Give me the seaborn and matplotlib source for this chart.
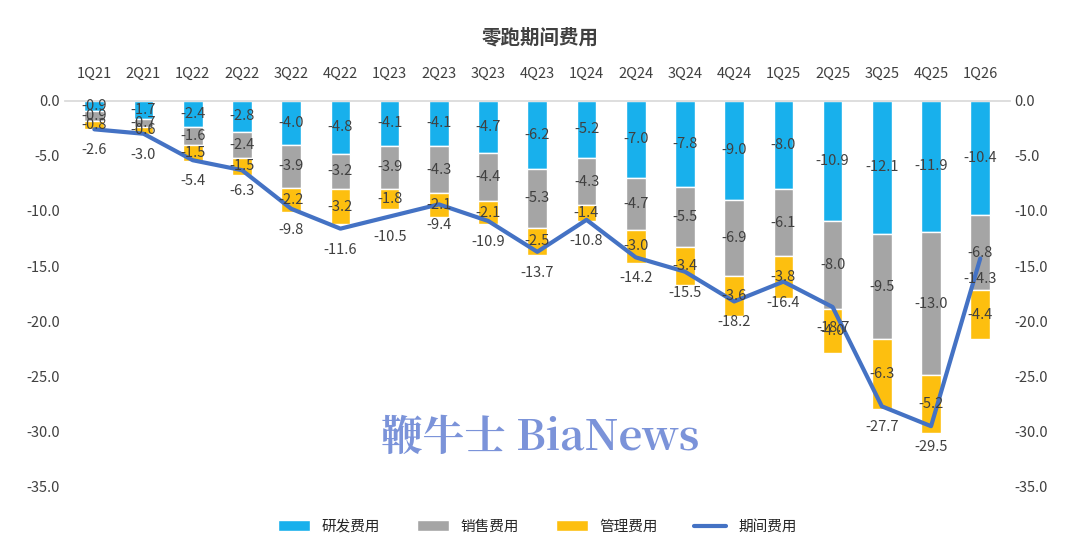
import numpy as np
import pandas as pd
import matplotlib
matplotlib.use("Agg")
import matplotlib.pyplot as plt
import seaborn as sns

quarters = ["1Q21", "2Q21", "1Q22", "2Q22", "3Q22", "4Q22", "1Q23", "2Q23", "3Q23", "4Q23",
            "1Q24", "2Q24", "3Q24", "4Q24", "1Q25", "2Q25", "3Q25", "4Q25", "1Q26"]
rd = [-0.9, -1.7, -2.4, -2.8, -4.0, -4.8, -4.1, -4.1, -4.7, -6.2,
      -5.2, -7.0, -7.8, -9.0, -8.0, -10.9, -12.1, -11.9, -10.4]
sales = [-0.9, -0.7, -1.6, -2.4, -3.9, -3.2, -3.9, -4.3, -4.4, -5.3,
         -4.3, -4.7, -5.5, -6.9, -6.1, -8.0, -9.5, -13.0, -6.8]
admin = [-0.8, -0.6, -1.5, -1.5, -2.2, -3.2, -1.8, -2.1, -2.1, -2.5,
         -1.4, -3.0, -3.4, -3.6, -3.8, -4.0, -6.3, -5.2, -4.4]
total = [-2.6, -3.0, -5.4, -6.3, -9.8, -11.6, -10.5, -9.4, -10.9, -13.7,
         -10.8, -14.2, -15.5, -18.2, -16.4, -18.7, -27.7, -29.5, -14.3]

sns.set_theme(style="white")
plt.rcParams['font.family'] = ['Noto Sans CJK SC', 'DejaVu Sans']

fig, ax = plt.subplots(figsize=(10.8, 5.44), dpi=100)
fig.subplots_adjust(left=0.06, right=0.935, top=0.815, bottom=0.105)

x = np.arange(len(quarters))
w = 0.4
c_rd, c_sales, c_admin, c_line = "#18b0ec", "#a5a5a5", "#fdbf0f", "#4472c4"
rd_a, sales_a, admin_a = np.array(rd), np.array(sales), np.array(admin)
ax.bar(x, rd_a, w, color=c_rd, label="研发费用")
ax.bar(x, sales_a, w, bottom=rd_a, color=c_sales, label="销售费用")
ax.bar(x, admin_a, w, bottom=rd_a + sales_a, color=c_admin, label="管理费用")
sns.lineplot(x=x, y=total, ax=ax, color=c_line, linewidth=3, label="期间费用")

tc = "#404040"
for i in x:
    ax.text(i, rd[i] / 2, f"{rd[i]:.1f}", ha="center", va="center", fontsize=10.5, color=tc)
    ax.text(i, rd[i] + sales[i] / 2, f"{sales[i]:.1f}", ha="center", va="center", fontsize=10.5, color=tc)
    ax.text(i, rd[i] + sales[i] + admin[i] / 2, f"{admin[i]:.1f}", ha="center", va="center", fontsize=10.5, color=tc)
    ax.annotate(f"{total[i]:.1f}", (i, total[i]), xytext=(0, -10), textcoords="offset points",
                ha="center", va="top", fontsize=10.5, color=tc)

ax.set_ylim(-35, 0)
ax.set_xlim(-0.6, len(quarters) - 0.4)
ax.set_yticks(np.arange(0, -35.1, -5))
ax.set_yticklabels([f"{v:.1f}" for v in np.arange(0, -35.1, -5)], fontsize=10.5, color=tc)
ax.set_xticks(x)
ax.set_xticklabels(quarters, fontsize=10.5, color=tc)
ax.xaxis.tick_top()
ax.tick_params(axis="x", length=0, pad=14)
ax.tick_params(axis="y", length=0)
for s in ["left", "right", "bottom"]:
    ax.spines[s].set_visible(False)
ax.spines["top"].set_color("#d9d9d9")

ax2 = ax.twinx()
ax2.set_ylim(-35, 0)
ax2.set_yticks(np.arange(0, -35.1, -5))
ax2.set_yticklabels([f"{v:.1f}" for v in np.arange(0, -35.1, -5)], fontsize=10.5, color=tc)
ax2.tick_params(axis="y", length=0)
for s in ax2.spines.values():
    s.set_visible(False)

handles, labels = ax.get_legend_handles_labels()
order = [labels.index(n) for n in ["研发费用", "销售费用", "管理费用", "期间费用"]]
ax.legend([handles[k] for k in order], [labels[k] for k in order],
          loc="lower center", bbox_to_anchor=(0.5, -0.155), ncol=4, frameon=False,
          fontsize=10.5, handlelength=2.2, columnspacing=2.5)

fig.text(0.5, 0.93, "零跑期间费用", ha="center", va="center", fontsize=14, fontweight="bold", color="#404040")
fig.text(0.5, 0.195, "鞭牛士 BiaNews", ha="center", va="center", fontsize=30,
         color="#7b93d9", family=["Noto Serif CJK SC", "DejaVu Serif", "Noto Sans CJK SC"], fontweight="bold")

fig.savefig("out.png", dpi=100)
